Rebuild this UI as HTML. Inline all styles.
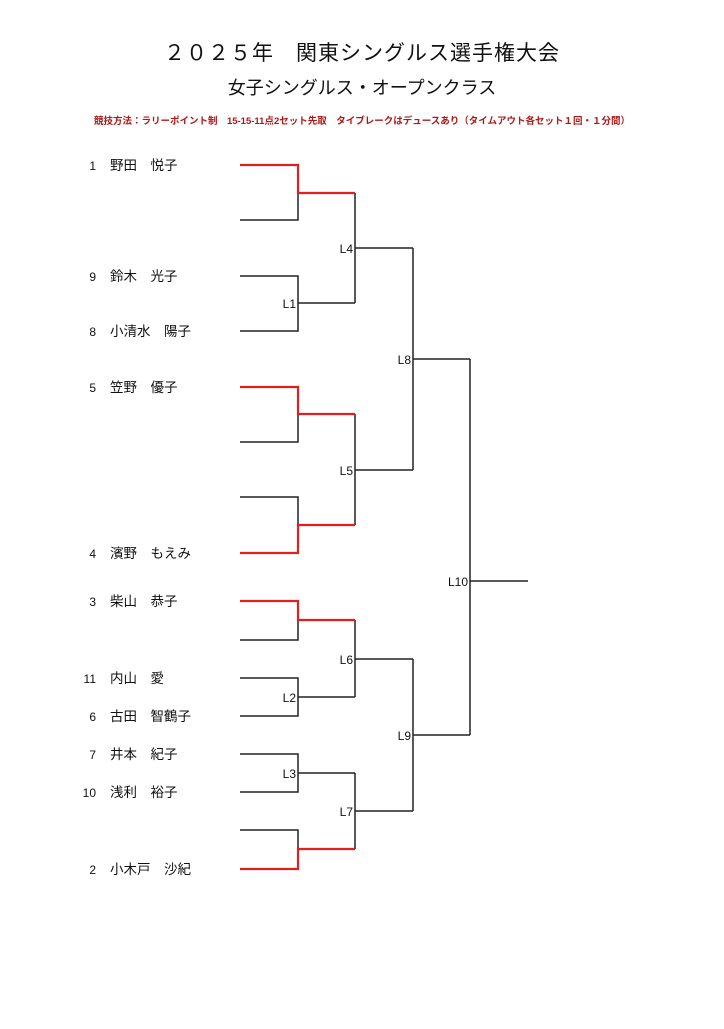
<!DOCTYPE html>
<html><head><meta charset="utf-8"><style>
html,body{margin:0;padding:0;background:#fff;}
body{width:724px;height:1024px;overflow:hidden;}
svg text{font-family:"Liberation Sans","Noto Sans CJK JP",sans-serif;}
</style></head><body>
<svg width="724" height="1024" xmlns="http://www.w3.org/2000/svg">
<text x="362" y="60" text-anchor="middle" font-size="21" fill="#111" letter-spacing="1">２０２５年　関東シングルス選手権大会</text>
<text x="362" y="94" text-anchor="middle" font-size="18" fill="#111">女子シングルス・オープンクラス</text>
<text x="362" y="124" text-anchor="middle" font-size="9.5" font-weight="bold" fill="#b01818">競技方法：ラリーポイント制　15-15-11点2セット先取　タイブレークはデュースあり（タイムアウト各セット１回・１分間）</text>
<g font-size="13.5" fill="#111">
<text x="96" y="170" text-anchor="end" font-size="12">1</text><text x="110" y="170">野田　悦子</text>
<text x="96" y="281" text-anchor="end" font-size="12">9</text><text x="110" y="281">鈴木　光子</text>
<text x="96" y="336" text-anchor="end" font-size="12">8</text><text x="110" y="336">小清水　陽子</text>
<text x="96" y="392" text-anchor="end" font-size="12">5</text><text x="110" y="392">笠野　優子</text>
<text x="96" y="558" text-anchor="end" font-size="12">4</text><text x="110" y="558">濱野　もえみ</text>
<text x="96" y="606" text-anchor="end" font-size="12">3</text><text x="110" y="606">柴山　恭子</text>
<text x="96" y="683" text-anchor="end" font-size="12">11</text><text x="110" y="683">内山　愛</text>
<text x="96" y="721" text-anchor="end" font-size="12">6</text><text x="110" y="721">古田　智鶴子</text>
<text x="96" y="759" text-anchor="end" font-size="12">7</text><text x="110" y="759">井本　紀子</text>
<text x="96" y="797" text-anchor="end" font-size="12">10</text><text x="110" y="797">浅利　裕子</text>
<text x="96" y="874" text-anchor="end" font-size="12">2</text><text x="110" y="874">小木戸　沙紀</text>
</g>
<g fill="none" stroke="#222" stroke-width="1.5">
<path d="M240 220H298V193"/>
<path d="M240 276H298V331H240M298 303H355"/>
<path d="M355 193V303M355 248H413"/>
<path d="M240 442H298V414"/>
<path d="M240 497H298V525"/>
<path d="M355 414V525M355 470H413"/>
<path d="M413 248V470M413 359H470"/>
<path d="M240 640H298V620"/>
<path d="M240 678H298V716H240M298 697H355"/>
<path d="M355 620V697M355 659H413"/>
<path d="M240 754H298V792H240M298 773H355"/>
<path d="M240 830H298V849"/>
<path d="M355 773V849M355 811H413"/>
<path d="M413 659V811M413 735H470"/>
<path d="M470 359V735M470 581H528"/>
</g>
<g fill="none" stroke="#e02020" stroke-width="2.2">
<path d="M240 165H298V193H355"/>
<path d="M240 387H298V414H355"/>
<path d="M240 553H298V525H355"/>
<path d="M240 601H298V620H355"/>
<path d="M240 869H298V849H355"/>
</g>
<g font-size="12" fill="#111" text-anchor="end">
<text x="296" y="308">L1</text>
<text x="296" y="702">L2</text>
<text x="296" y="778">L3</text>
<text x="353" y="253">L4</text>
<text x="353" y="475">L5</text>
<text x="353" y="664">L6</text>
<text x="353" y="816">L7</text>
<text x="411" y="364">L8</text>
<text x="411" y="740">L9</text>
<text x="468" y="586">L10</text>
</g>
</svg>
</body></html>
